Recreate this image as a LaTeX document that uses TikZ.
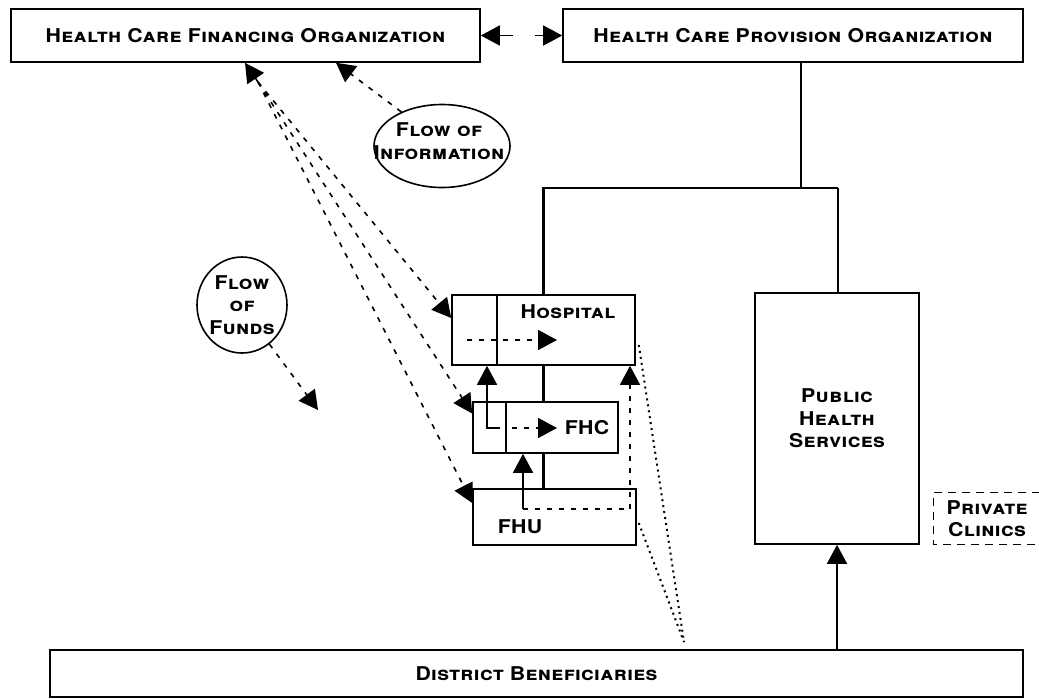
\documentclass[tikz,border=0pt]{standalone}
\usepackage{fontspec}
\setmainfont[FakeStretch=1.12, LetterSpace=2]{TeX Gyre Heros}
\usepackage{xcolor}
\usetikzlibrary{shapes,arrows.meta,positioning,fit,calc}

\begin{document}
\begin{tikzpicture}[x=0.5pt, y=-0.5pt,
    box/.style={rectangle, draw, line width=0.8pt, inner sep=0pt},
    lbl/.style={font=\bfseries\scshape\fontsize{9.5}{11.2}\selectfont, align=center},
    bubble/.style={ellipse, draw, line width=0.8pt, inner sep=0pt},
    tip/.style={-{Triangle[length=9.5pt,width=10pt]}},
    flowline/.style={dash pattern=on 2.5pt off 3.5pt, line width=0.8pt}]
    \useasboundingbox (0,0) rectangle (1039,698);

    % boxes
    \node (hcfo) [box, lbl, minimum width=234.5pt, minimum height=26.5pt] at (245.5,35.5) {Health Care Financing Organization};
    \node (hcpo) [box, lbl, minimum width=230pt, minimum height=26.5pt] at (793,35.5) {Health Care Provision Organization};
    \node (hosp) [box, minimum width=91.5pt, minimum height=35pt] at (543.5,330) {};
    \node (fhc) [box, minimum width=72.5pt, minimum height=25.5pt] at (545.5,427.5) {};
    \node (fhu) [box, minimum width=81.5pt, minimum height=28pt] at (554.5,517) {};
    \node (phs) [box, lbl, minimum width=82pt, minimum height=125.5pt] at (837,418.5) {Public\\Health\\Services};
    \node (pc) [lbl, inner sep=0pt, minimum width=53pt, minimum height=25.5pt] at (987,518.5) {Private\\Clinics};
    \node (db) [box, lbl, minimum width=486.5pt, minimum height=23.5pt] at (536.5,673.5) {District Beneficiaries};
    \node (info) [bubble, minimum width=68pt, minimum height=41.5pt] at (442,146) {};
    \node (funds) [bubble, minimum width=45pt, minimum height=48pt] at (242,305) {};
    \draw [dash pattern=on 4pt off 3pt, line width=0.8pt] (pc.north east) -- (pc.north west) -- (pc.south west) -- (pc.south east);

    % texts
    \node (infotxt) [lbl] at (439,141) {Flow of\\Information};
    \node (fundstxt) [lbl] at (funds) {Flow\\of\\Funds};
    \node (hosptxt) [lbl] at (568,312) {Hospital};
    \node (fhctxt) [lbl, font=\bfseries\fontsize{9.5}{11}\selectfont] at (587,428) {FHC};
    \node (fhutxt) [lbl, font=\bfseries\fontsize{9.5}{11}\selectfont] at (520,527) {FHU};

    % organisation tree
    \coordinate (split) at (801,188);
    \coordinate (rj) at (838,188);
    \draw [line width=0.8pt] (split |- hcpo.south) -- (split);
    \draw [line width=1.2pt] (hosp.north) -- (hosp.north |- split) -- (rj);
    \draw [line width=0.8pt] (rj) -- (rj |- phs.north);
    \draw [line width=1.3pt] (hosp.south) -- (hosp.south |- fhc.north);
    \draw [line width=1.3pt] (hosp.south |- fhc.south) -- (hosp.south |- fhu.north);

    % between the two organisations
    \coordinate (ml) at (513,35.5);
    \coordinate (mr) at (535,35.5);
    \draw [tip, line width=0.8pt] (ml) -- (hcfo.east);
    \draw [tip, line width=0.8pt] (mr) -- (hcpo.west);

    % inside the facilities
    \draw [line width=0.8pt] (497,295) -- (497,365);
    \draw [flowline, tip] (467,340) -- (557,340);
    \draw [line width=0.8pt] (506,402) -- (506,453);
    \draw [line width=0.8pt] (487,402) -- (487,428) -- (500,428);
    \draw [flowline, tip] (512,428) -- (557,428);
    \coordinate (fhuin) at (523,509);
    \coordinate (fhur) at (630,509);
    \draw [line width=0.8pt] (fhuin |- fhu.north) -- (fhuin);
    \draw [flowline] (fhuin) -- (fhur);

    % referrals upwards
    \coordinate (ua) at (487,0);
    \draw [tip, line width=0.8pt] (ua |- fhc.north) -- (ua |- hosp.south);
    \draw [tip, line width=0.8pt] (fhuin |- fhu.north) -- (fhuin |- fhc.south);
    \draw [flowline, tip] (fhur) -- (fhur |- hosp.south);
    \draw [tip, line width=0.8pt] (db.north -| phs.south) -- (phs.south);

    % flow of funds
    \coordinate (fsrc) at (258,82);
    \draw [flowline, tip] (fsrc) -- (hcfo.south -| 245,0);
    \draw [flowline, tip] (fsrc) -- ($(hosp.west)+(0,-12)$);
    \draw [flowline, tip] (fsrc) -- ($(fhc.west)+(0,-14)$);
    \draw [flowline, tip] (fsrc) -- ($(fhu.west)+(0,-14)$);
    \coordinate (fundsto) at (318,410);
    \draw [flowline, tip] (funds.-55) -- (fundsto);

    % flow of information
    \coordinate (infoin) at (336,0);
    \draw [flowline, tip] (info.140) -- (infoin |- hcfo.south);

    % beneficiaries to facilities
    \coordinate (dconv) at (684,642);
    \draw [dotted, line width=1pt] ($(hosp.east)+(3,15)$) -- (dconv);
    \draw [dotted, line width=1pt] ($(fhu.east)+(2,6)$) -- (dconv);
\end{tikzpicture}
\end{document}
